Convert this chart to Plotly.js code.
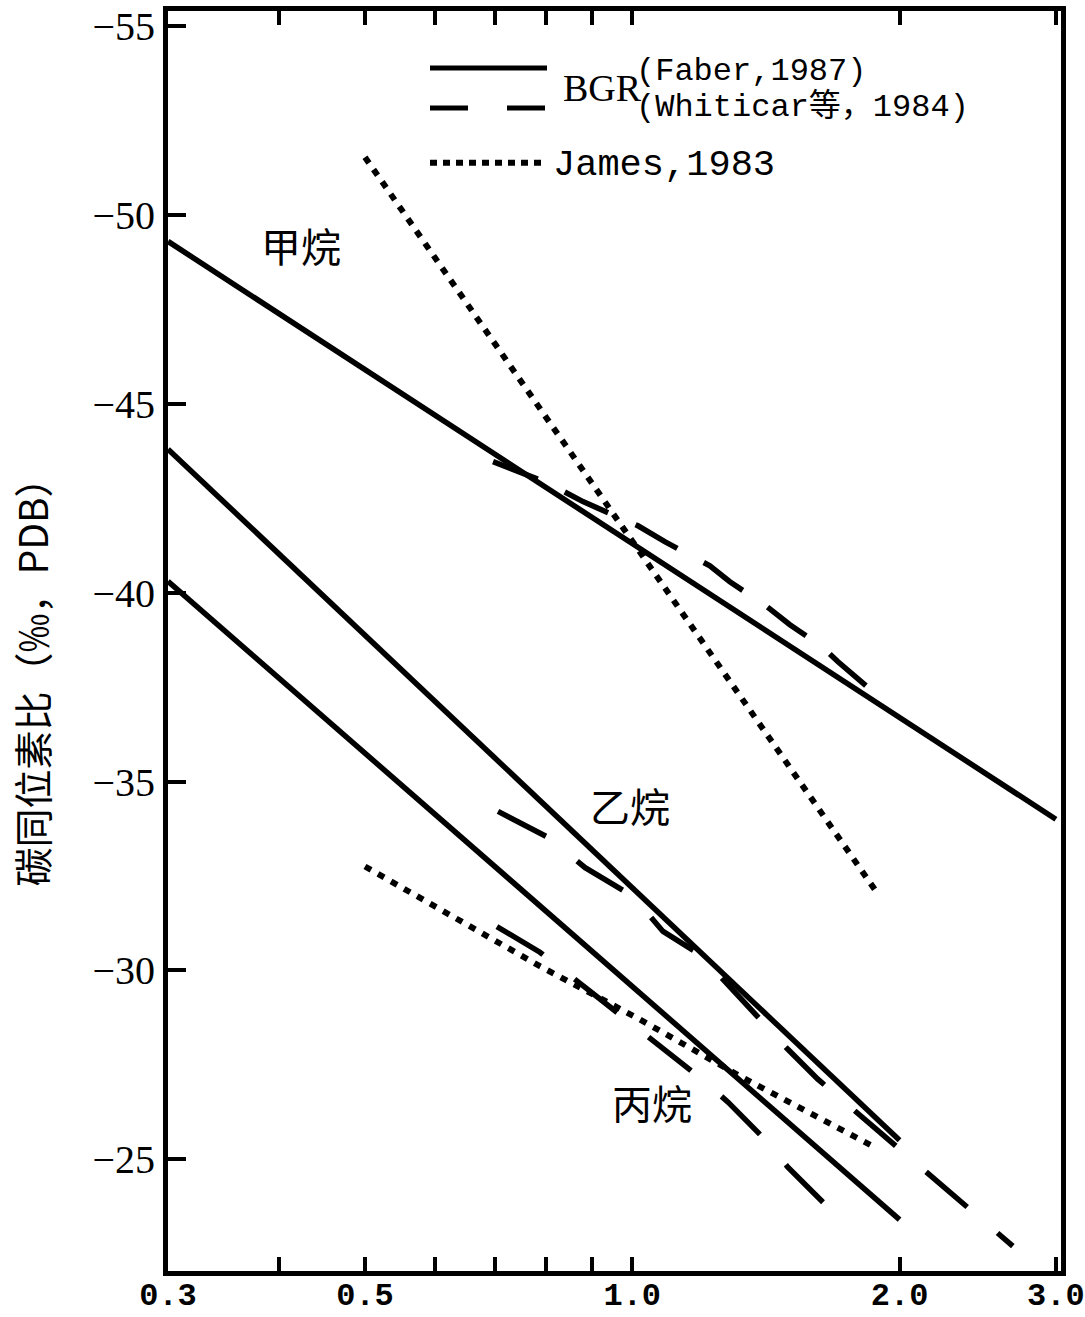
<!DOCTYPE html>
<html><head><meta charset="utf-8">
<script src="https://cdn.plot.ly/plotly-3.0.1.min.js"></script>
<style>body{margin:0;background:#fff}#chart{width:1085px;height:1317px}</style>
</head><body><div id="chart"></div>
<script>
// ---- data (x: log scale, y: δ13C ‰ PDB) ----
const methaneBgrX = [0.3, 3.0];
const methaneBgrY = [-49.3, -34.0];
const methaneWhiticarX = [0.697, 0.802, 0.880, 1.015, 1.088, 1.223, 1.288, 1.418, 1.505, 1.636, 1.705, 1.843];
const methaneWhiticarY = [-43.47, -42.91, -42.41, -41.77, -41.35, -40.71, -40.29, -39.63, -39.15, -38.57, -38.17, -37.49];
const methaneJamesX = [0.5, 0.804, 1.382, 1.886];
const methaneJamesY = [-51.53, -44.58, -36.64, -32.06];

const ethaneBgrX = [0.3, 2.0];
const ethaneBgrY = [-43.8, -25.5];
const ethaneWhiticarX = [0.706, 0.804, 0.885, 1.002, 1.083, 1.192, 1.497, 1.618, 2.093, 2.683];
const ethaneWhiticarY = [-34.21, -33.52, -32.72, -31.96, -31.03, -30.42, -27.91, -27.12, -24.87, -22.70];

const propaneBgrX = [0.3, 2.0];
const propaneBgrY = [-40.3, -23.4];
const propaneWhiticarX = [0.704, 0.787, 0.885, 1.007, 1.080, 1.198, 1.282, 1.410, 1.497, 1.640];
const propaneWhiticarY = [-31.16, -30.48, -29.55, -28.52, -27.99, -27.12, -26.51, -25.53, -24.79, -23.86];
const propaneJamesX = [0.5, 0.787, 1.020, 1.322, 1.867];
const propaneJamesY = [-32.75, -30.11, -28.70, -27.20, -25.34];

const xTickVals = [0.3, 0.4, 0.5, 0.6, 0.7, 0.8, 0.9, 1.0, 2.0, 3.0];
const xTickText = ['0.3', '', '0.5', '', '', '', '', '1.0', '2.0', '3.0'];
const yTickVals = [-55, -50, -45, -40, -35, -30, -25];

const gasLabels = ['甲烷', '乙烷', '丙烷'];
const gasLabelX = [0.424, 0.994, 1.052];
const gasLabelY = [-49.2, -34.39, -26.51];

const legendTexts = ['BGR', '(Faber,1987)', '(Whiticar等，1984)', 'James,1983'];
const yTitle = '碳同位素比（‰，PDB）';

// ---- styles ----
const SOLID = {color: '#000', width: 5.5, dash: 'solid'};
const DASH_M = {color: '#000', width: 5.5, dash: '48px,30px'};
const DASH_E = {color: '#000', width: 5.5, dash: '54px,40px'};
const DOT = {color: '#000', width: 6, dash: '7px,8px'};

function tr(x, y, line) {
  return {x: x, y: y, type: 'scatter', mode: 'lines', line: line, hoverinfo: 'skip', cliponaxis: true};
}

const data = [
  tr(methaneBgrX, methaneBgrY, SOLID),
  tr(methaneWhiticarX, methaneWhiticarY, DASH_M),
  tr(methaneJamesX, methaneJamesY, DOT),
  tr(ethaneBgrX, ethaneBgrY, SOLID),
  tr(ethaneWhiticarX, ethaneWhiticarY, DASH_E),
  tr(propaneBgrX, propaneBgrY, SOLID),
  tr(propaneWhiticarX, propaneWhiticarY, DASH_E),
  tr(propaneJamesX, propaneJamesY, DOT)
];

const mono = 'Liberation Mono, Noto Sans CJK SC, monospace';
const annotations = [];
for (let i = 0; i < gasLabels.length; i++) {
  annotations.push({x: Math.log10(gasLabelX[i]), y: gasLabelY[i], xref: 'x', yref: 'y', text: gasLabels[i],
    showarrow: false, font: {family: 'Noto Sans CJK SC', size: 40, color: '#000'}});
}
annotations.push({xref: 'paper', yref: 'paper', x: 0.4412, y: 0.9389, xanchor: 'left', yanchor: 'middle', borderpad: 0,
  text: legendTexts[0], showarrow: false, font: {family: 'Liberation Serif', size: 38, color: '#000'}});
annotations.push({xref: 'paper', yref: 'paper', x: 0.5230, y: 0.9516, xanchor: 'left', yanchor: 'middle', borderpad: 0,
  text: legendTexts[1], showarrow: false, font: {family: mono, size: 32, color: '#000'}});
annotations.push({xref: 'paper', yref: 'paper', x: 0.5230, y: 0.9239, xanchor: 'left', yanchor: 'middle', borderpad: 0,
  text: legendTexts[2], showarrow: false, font: {family: mono, size: 32, color: '#000'}});
annotations.push({xref: 'paper', yref: 'paper', x: 0.4300, y: 0.8779, xanchor: 'left', yanchor: 'middle', borderpad: 0,
  text: legendTexts[3], showarrow: false, font: {family: mono, size: 37, color: '#000'}});
annotations.push({xref: 'paper', yref: 'paper', x: -0.1545, y: 0.475, xanchor: 'center', yanchor: 'middle', borderpad: 0,
  text: yTitle, textangle: -90, showarrow: false, font: {family: 'Noto Sans CJK SC', size: 39, color: '#000'}});

const shapes = [
  {type: 'line', xref: 'paper', yref: 'paper', x0: 0.2934, x1: 0.4244, y0: 0.9548, y1: 0.9548, line: {color: '#000', width: 5, dash: 'solid'}},
  {type: 'line', xref: 'paper', yref: 'paper', x0: 0.2934, x1: 0.4244, y0: 0.9231, y1: 0.9231, line: {color: '#000', width: 5, dash: '38px,39px'}},
  {type: 'line', xref: 'paper', yref: 'paper', x0: 0.2934, x1: 0.4244, y0: 0.8795, y1: 0.8795, line: {color: '#000', width: 6, dash: '7px,6px'}}
];

const layout = {
  width: 1085, height: 1317,
  margin: {l: 168, r: 24, t: 11, b: 46},
  paper_bgcolor: '#fff', plot_bgcolor: '#fff',
  showlegend: false,
  xaxis: {type: 'log', range: [Math.log10(0.3), Math.log10(3.04)], tickmode: 'array', tickvals: xTickVals, ticktext: xTickText,
    ticks: 'inside', ticklen: 14, tickwidth: 4, tickcolor: '#000', showline: true, linewidth: 5, linecolor: '#000',
    mirror: 'ticks', showgrid: false, zeroline: false, automargin: false, ticklabelstandoff: -9,
    tickfont: {family: 'Liberation Mono', size: 32, color: '#000', weight: 'bold'}},
  yaxis: {range: [-22.04, -55.4], tickmode: 'array', tickvals: yTickVals,
    ticks: 'inside', ticklen: 18, tickwidth: 4, tickcolor: '#000', showline: true, linewidth: 5, linecolor: '#000',
    mirror: true, showgrid: false, zeroline: false, automargin: false,
    tickfont: {family: 'Liberation Serif', size: 40, color: '#000'}},
  annotations: annotations,
  shapes: shapes
};

Plotly.newPlot('chart', data, layout, {staticPlot: true, displayModeBar: false});
</script>
</body></html>
